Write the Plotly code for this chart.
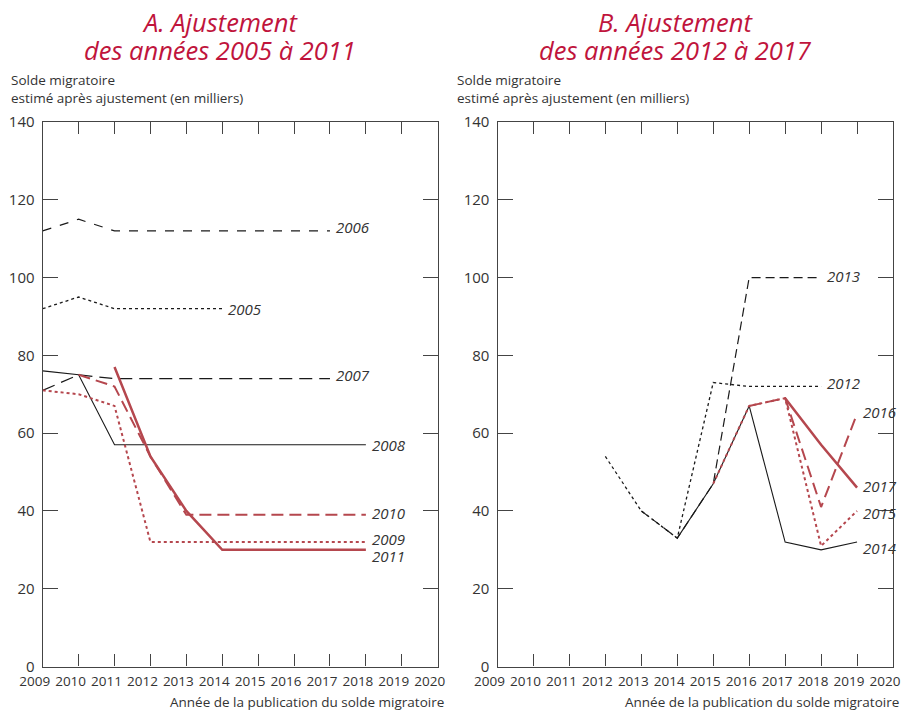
import plotly.graph_objects as go
from plotly.subplots import make_subplots

# Années de publication (axe x)
pub_years = [2009, 2010, 2011, 2012, 2013, 2014, 2015, 2016, 2017, 2018, 2019, 2020]

# Panneau A : ajustement des années 2005 à 2011
a_2005_x = [2009, 2010, 2011, 2012, 2013, 2014]
a_2005_y = [92, 95, 92, 92, 92, 92]
a_2006_x = [2009, 2010, 2011, 2012, 2013, 2014, 2015, 2016, 2017]
a_2006_y = [112, 115, 112, 112, 112, 112, 112, 112, 112]
a_2007_x = [2009, 2010, 2011, 2012, 2013, 2014, 2015, 2016, 2017]
a_2007_y = [71, 75, 74, 74, 74, 74, 74, 74, 74]
a_2008_x = [2009, 2010, 2011, 2012, 2013, 2014, 2015, 2016, 2017, 2018]
a_2008_y = [76, 75, 57, 57, 57, 57, 57, 57, 57, 57]
a_2009_x = [2009, 2010, 2011, 2012, 2013, 2014, 2015, 2016, 2017, 2018]
a_2009_y = [71, 70, 67, 32, 32, 32, 32, 32, 32, 32]
a_2010_x = [2010, 2011, 2012, 2013, 2014, 2015, 2016, 2017, 2018]
a_2010_y = [75, 72, 54, 39, 39, 39, 39, 39, 39]
a_2011_x = [2011, 2012, 2013, 2014, 2015, 2016, 2017, 2018]
a_2011_y = [77, 54, 40, 30, 30, 30, 30, 30]

# Panneau B : ajustement des années 2012 à 2017
b_2012_x = [2012, 2013, 2014, 2015, 2016, 2017, 2018]
b_2012_y = [54, 40, 33, 73, 72, 72, 72]
b_2013_x = [2013, 2014, 2015, 2016, 2017, 2018]
b_2013_y = [40, 33, 47, 100, 100, 100]
b_2014_x = [2014, 2015, 2016, 2017, 2018, 2019]
b_2014_y = [33, 47, 67, 32, 30, 32]
b_2015_x = [2015, 2016, 2017, 2018, 2019]
b_2015_y = [47, 67, 69, 31, 40]
b_2016_x = [2016, 2017, 2018, 2019]
b_2016_y = [67, 69, 41, 65]
b_2017_x = [2017, 2018, 2019]
b_2017_y = [69, 57, 46]

BLACK = '#1a1a1a'
RED = '#b5474e'
TITLE_RED = '#c0143c'
AXIS = '#444444'
TEXT = '#333333'
FONT = 'Open Sans'

W, H = 901, 711

fig = make_subplots(rows=1, cols=2, horizontal_spacing=0.07)

series_a = [
    (a_2005_x, a_2005_y, BLACK, 1.3, 'dot', '2005'),
    (a_2006_x, a_2006_y, BLACK, 1.2, 'dash', '2006'),
    (a_2007_x, a_2007_y, BLACK, 1.2, '13px,7px', '2007'),
    (a_2008_x, a_2008_y, BLACK, 1.1, 'solid', '2008'),
    (a_2009_x, a_2009_y, RED, 2.0, 'dot', '2009'),
    (a_2010_x, a_2010_y, RED, 2.0, '12px,6px', '2010'),
    (a_2011_x, a_2011_y, RED, 2.5, 'solid', '2011'),
]
series_b = [
    (b_2012_x, b_2012_y, BLACK, 1.3, 'dot', '2012'),
    (b_2013_x, b_2013_y, BLACK, 1.2, '9px,5px', '2013'),
    (b_2014_x, b_2014_y, BLACK, 1.1, 'solid', '2014'),
    (b_2015_x, b_2015_y, RED, 2.0, 'dot', '2015'),
    (b_2016_x, b_2016_y, RED, 2.0, '12px,6px', '2016'),
    (b_2017_x, b_2017_y, RED, 2.5, 'solid', '2017'),
]

for col, series in ((1, series_a), (2, series_b)):
    for xs, ys, color, width, dash, name in series:
        fig.add_trace(
            go.Scatter(
                x=xs, y=ys, mode='lines', name=name,
                line=dict(color=color, width=width, dash=dash),
                showlegend=False,
                hovertemplate=name + '<br>%{x}: %{y}<extra></extra>'
            ),
            row=1, col=col
        )

# Étiquettes des séries (placées à droite de la fin de chaque ligne)
label_pos_a = {'2005': (2014, 92), '2006': (2017, 113), '2007': (2017, 75),
               '2008': (2018, 57), '2010': (2018, 39.5), '2009': (2018, 32.7),
               '2011': (2018, 28.5)}
label_pos_b = {'2013': (2018, 100.5), '2012': (2018, 73), '2016': (2019, 65.5),
               '2017': (2019, 46.5), '2015': (2019, 39.5), '2014': (2019, 30.5)}

for ref, pos in (('x', label_pos_a), ('x2', label_pos_b)):
    yref = 'y' if ref == 'x' else 'y2'
    for name, (lx, ly) in pos.items():
        fig.add_annotation(
            x=lx, y=ly, xref=ref, yref=yref, text='<i>' + name + '</i>',
            showarrow=False, xanchor='left', xshift=4,
            font=dict(family=FONT, size=15, color=TEXT)
        )

axis_common = dict(
    showline=True, linecolor=AXIS, linewidth=1.2, mirror='ticks',
    ticks='inside', tickcolor=AXIS, tickwidth=1.2, showgrid=False,
    zeroline=False, automargin=False
)

fig.update_xaxes(
    range=[2009, 2020], tickvals=pub_years, ticklen=12, ticklabelshift=-8,
    ticklabelstandoff=2,
    tickfont=dict(family=FONT, size=13.5, color=TEXT), **axis_common
)
fig.update_yaxes(
    range=[0, 140], tickvals=[0, 20, 40, 60, 80, 100, 120, 140], ticklen=15,
    ticklabelstandoff=4,
    tickfont=dict(family=FONT, size=15, color=TEXT), **axis_common
)

fig.update_layout(
    xaxis=dict(domain=[42.7 / W, 437.7 / W]),
    xaxis2=dict(domain=[497.5 / W, 893 / W]),
    yaxis=dict(domain=[(H - 666.5) / H, (H - 122) / H]),
    yaxis2=dict(domain=[(H - 666.5) / H, (H - 122) / H]),
    width=W, height=H,
    margin=dict(l=0, r=0, t=0, b=0),
    plot_bgcolor='white', paper_bgcolor='white',
    font=dict(family=FONT, color=TEXT)
)

# Titres des panneaux (une annotation par ligne)
titles = [
    (220, 'A. Ajustement', 'des années 2005 à 2011'),
    (675, 'B. Ajustement', 'des années 2012 à 2017'),
]
for tx, line1, line2 in titles:
    for ty, txt in ((22, line1), (50, line2)):
        fig.add_annotation(
            x=tx / W, y=1 - ty / H, xref='paper', yref='paper',
            xanchor='center', yanchor='middle',
            text='<i>' + txt + '</i>', showarrow=False,
            font=dict(family=FONT, size=25.5, color=TITLE_RED)
        )

# Titres des axes
for tx in (9, 455):
    fig.add_annotation(
        x=tx / W, y=1 - 69 / H, xref='paper', yref='paper',
        xanchor='left', yanchor='top',
        text='Solde migratoire<br>estimé après ajustement (en milliers)',
        align='left', showarrow=False,
        font=dict(family=FONT, size=13.5, color=TEXT)
    )
for tx in (446, 901):
    fig.add_annotation(
        x=tx / W, y=1 - 702 / H, xref='paper', yref='paper',
        xanchor='right', yanchor='middle',
        text='Année de la publication du solde migratoire',
        showarrow=False, font=dict(family=FONT, size=13.5, color=TEXT)
    )

# la page ajoute par défaut une marge de 8 px autour de la figure
fig.write_html(
    "out.html",
    config={'displayModeBar': False},
    post_script="document.body.style.margin='0';"
                "document.documentElement.style.overflow='hidden';"
)
